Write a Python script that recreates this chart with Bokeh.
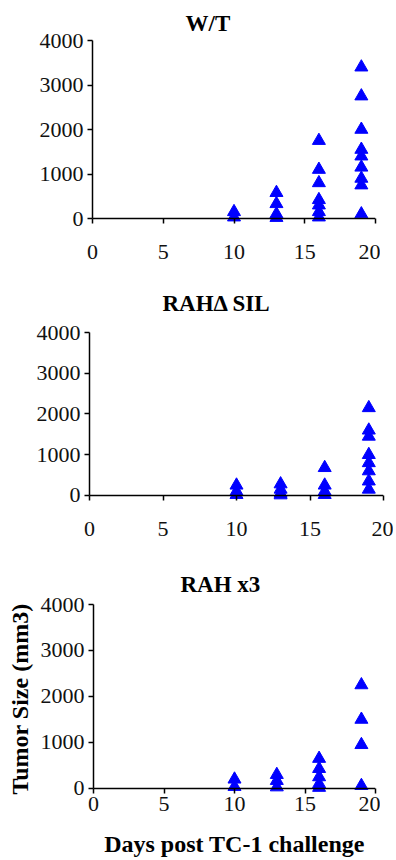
from bokeh.plotting import figure
from bokeh.models import FixedTicker, Range1d, Span
from bokeh.embed import file_html
from bokeh.resources import INLINE

# ---- data ----
wt_days   = [10, 10, 13, 13, 13, 13, 16, 16, 16, 16, 16, 16, 16,
             19, 19, 19, 19, 19, 19, 19, 19, 19]
wt_size   = [150, 30, 580, 330, 100, 20, 1750, 1100, 800, 420, 300, 150, 30,
             3400, 2750, 2000, 1550, 1400, 1150, 900, 750, 100]

sil_days  = [10, 10, 10, 13, 13, 13, 13, 16, 16, 16, 16,
             19, 19, 19, 19, 19, 19, 19, 19]
sil_size  = [250, 100, 20, 280, 150, 50, 10, 680, 250, 100, 20,
             2150, 1600, 1450, 1000, 800, 600, 350, 150]

x3_days   = [10, 10, 13, 13, 13, 16, 16, 16, 16, 16, 19, 19, 19, 19]
x3_size   = [200, 40, 300, 170, 30, 650, 430, 250, 100, 20, 2250, 1500, 950, 60]

titles    = ["W/T", "RAH\u0394 SIL", "RAH x3"]
x_ticks   = [0, 5, 10, 15, 20]
y_ticks   = [0, 1000, 2000, 3000, 4000]
x_label   = "Days post TC-1 challenge"
y_label   = "Tumor Size (mm3)"

SERIF = "Liberation Serif"
BLUE = "#0000ff"


def panel(days, size, title, w, h, left, right, top, bottom, ystart,
          title_offset, title_standoff, xlab_standoff, with_labels=False):
    p = figure(width=w, height=h, output_backend="svg", toolbar_location=None,
               x_range=Range1d(0, 20), y_range=Range1d(ystart, 4000),
               min_border_left=left, min_border_right=right,
               min_border_top=top, min_border_bottom=bottom,
               title=title)
    p.title.text_font = SERIF
    p.title.text_font_size = "23px"
    p.title.text_font_style = "bold"
    p.title.text_color = "black"
    p.title.align = "left"
    p.title.offset = title_offset
    p.title.standoff = title_standoff
    p.grid.visible = False
    p.outline_line_color = None
    p.background_fill_color = "white"
    p.border_fill_color = "white"

    p.xaxis.ticker = FixedTicker(ticks=x_ticks)
    p.yaxis.ticker = FixedTicker(ticks=y_ticks)
    p.yaxis.bounds = (0, 4000)
    for ax in (p.xaxis, p.yaxis):
        ax.axis_line_color = "black"
        ax.axis_line_width = 1.5
        ax.major_tick_line_color = "black"
        ax.major_tick_line_width = 1.5
        ax.minor_tick_line_color = None
        ax.major_label_text_font = SERIF
        ax.major_label_text_font_size = "22px"
        ax.major_label_text_color = "#111111"
    # x axis line is drawn at y = 0; ticks hang 5px below it to the frame edge
    p.xaxis.axis_line_color = None
    p.xaxis.major_tick_in = 5
    p.xaxis.major_tick_out = 0
    p.xaxis.major_label_standoff = xlab_standoff
    p.yaxis.major_tick_in = 0
    p.yaxis.major_tick_out = 5
    p.yaxis.major_label_standoff = 4
    p.add_layout(Span(location=0, dimension="width", line_color="black",
                      line_width=1.5))

    if with_labels:
        p.xaxis.axis_label = x_label
        p.yaxis.axis_label = y_label
        for ax in (p.xaxis, p.yaxis):
            ax.axis_label_text_font = SERIF
            ax.axis_label_text_font_size = "24px"
            ax.axis_label_text_font_style = "bold"
            ax.axis_label_text_color = "black"
        p.yaxis.axis_label_standoff = 5
        p.xaxis.axis_label_standoff = 17

    p.scatter(days, size, marker="triangle", size=13,
              fill_color=BLUE, line_color=BLUE)
    return p


p1 = panel(wt_days, wt_size, titles[0], 380, 270, 92, 5, 40, 47, -112,
           93, 10, 21)
p2 = panel(sil_days, sil_size, titles[1], 393, 290, 89, 10, 62, 60, -123,
           73, 34, 21)
p3 = panel(x3_days, x3_size, titles[2], 380, 300, 93, 5, 44, 67, -109,
           87, 16, 3, with_labels=True)

open("out.html", "w").write(file_html([p1, p2, p3], INLINE))
